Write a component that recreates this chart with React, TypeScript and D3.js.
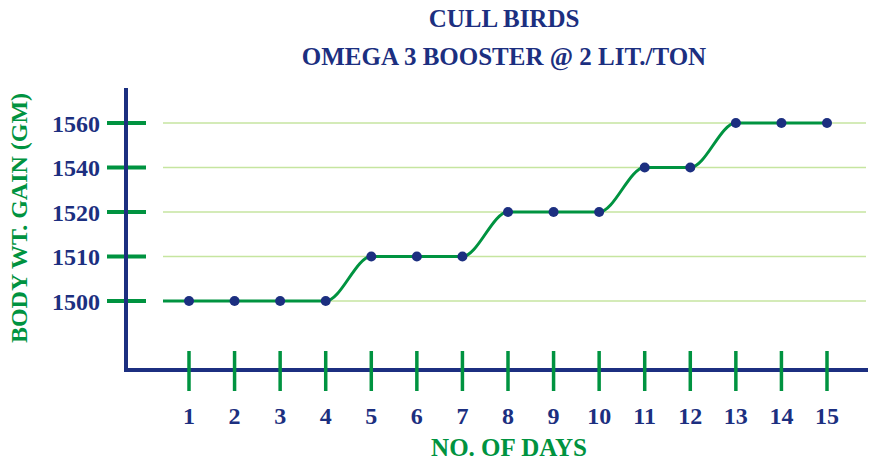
import React from "react";
import * as d3 from "d3";

const days = [1, 2, 3, 4, 5, 6, 7, 8, 9, 10, 11, 12, 13, 14, 15];
const weights = ["1500", "1500", "1500", "1500", "1510", "1510", "1510", "1520", "1520", "1520", "1540", "1540", "1560", "1560", "1560"];
const yTicks = ["1500", "1510", "1520", "1540", "1560"];
const titleLines = ["CULL BIRDS", "OMEGA 3 BOOSTER @ 2 LIT./TON"];
const xTitle = "NO. OF DAYS";
const yTitle = "BODY WT. GAIN (GM)";

const NAVY = "#1c2f80";
const GREEN = "#009340";
const LIGHT = "#c6e5a0";
const FONT = "'Liberation Serif', 'Times New Roman', serif";

export default function App() {
  const W = 877, H = 464;
  const x = d3.scaleLinear().domain([1, 15]).range([189, 827]);
  const y = d3.scalePoint<string>().domain(yTicks).range([301, 123]);
  const gridX0 = 163, gridX1 = 866;
  const axisX = 126, axisY = 370;

  const pts: [number, number][] = days.map((d, i) => [x(d), y(weights[i]) as number]);
  const line = d3.line().curve(d3.curveMonotoneX)(pts) || "";

  return (
    <svg width={W} height={H} style={{ position: "absolute", left: 0, top: 0, background: "#fff" }} fontFamily={FONT} fontWeight="bold">
      {titleLines.map((t, i) => (
        <text key={t} x={504} y={27 + i * 38} textAnchor="middle" fontSize={25} fill={NAVY}>{t}</text>
      ))}
      {yTicks.map((t) => (
        <g key={t}>
          <line x1={gridX0} x2={gridX1} y1={y(t)} y2={y(t)} stroke={LIGHT} strokeWidth={1.6} />
          <line x1={107} x2={146} y1={y(t)} y2={y(t)} stroke={GREEN} strokeWidth={4} />
          <text x={100} y={(y(t) as number) + 8.5} textAnchor="end" fontSize={24} fill={NAVY}>{t}</text>
        </g>
      ))}
      <line x1={gridX0} x2={x(days[0])} y1={y(weights[0])} y2={y(weights[0])} stroke={GREEN} strokeWidth={3} />
      <path d={line} fill="none" stroke={GREEN} strokeWidth={3} />
      <line x1={axisX} x2={axisX} y1={88} y2={axisY + 2} stroke={NAVY} strokeWidth={4} />
      <line x1={axisX - 2} x2={868} y1={axisY} y2={axisY} stroke={NAVY} strokeWidth={4} />
      {days.map((d) => (
        <g key={d}>
          <line x1={x(d)} x2={x(d)} y1={351} y2={391} stroke={GREEN} strokeWidth={3.5} />
          <text x={x(d)} y={424} textAnchor="middle" fontSize={24} fill={NAVY}>{d}</text>
        </g>
      ))}
      {pts.map((p, i) => (
        <circle key={i} cx={p[0]} cy={p[1]} r={5} fill={NAVY} />
      ))}
      <text x={509} y={456} textAnchor="middle" fontSize={25} fill={GREEN}>{xTitle}</text>
      <text transform={`translate(27,218) rotate(-90)`} textAnchor="middle" fontSize={24} fill={GREEN}>{yTitle}</text>
    </svg>
  );
}
